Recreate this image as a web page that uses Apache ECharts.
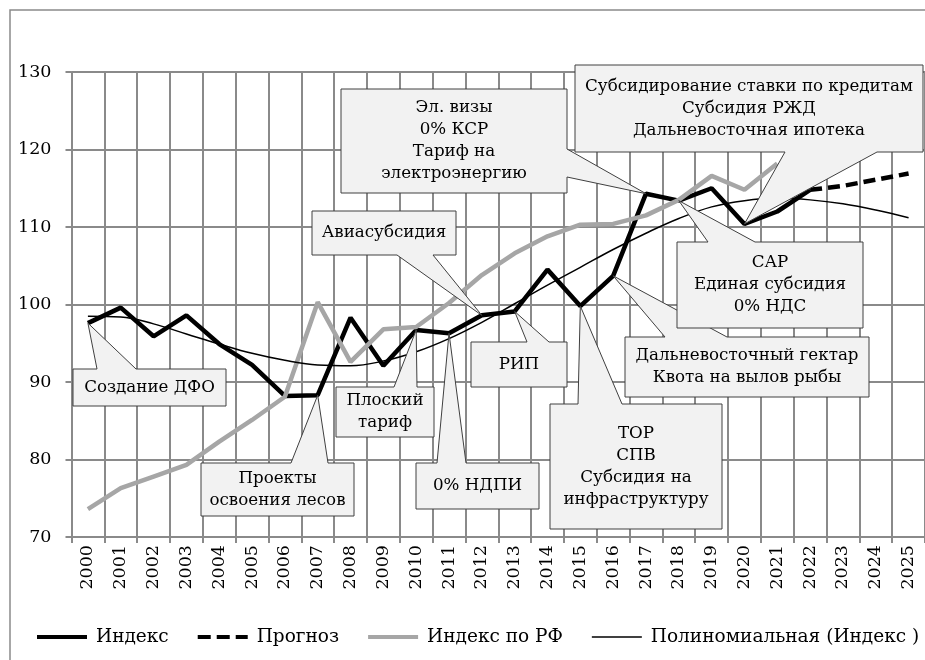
<!DOCTYPE html>
<html>
<head>
<meta charset="utf-8">
<script src="https://cdn.jsdelivr.net/npm/echarts@6/dist/echarts.min.js"></script>
<style>
  html, body { margin: 0; padding: 0; background: #fff; }
  #chart { width: 925px; height: 660px; }
</style>
</head>
<body>
<div id="chart"></div>
<script>
// годы по оси X
const years = [
  '2000', '2001', '2002', '2003', '2004', '2005', '2006', '2007', '2008', '2009',
  '2010', '2011', '2012', '2013', '2014', '2015', '2016', '2017', '2018', '2019',
  '2020', '2021', '2022', '2023', '2024', '2025',
];
// Индекс (факт)
const indexValues = [
  97.6, 99.6, 95.9, 98.6, 94.9, 92.2, 88.2, 88.3, 98.3, 92.1,
  96.7, 96.3, 98.6, 99.1, 104.5, 99.8, 103.7, 114.3, 113.4, 115.0,
  110.4, 112.0, 114.8, null, null, null,
];
// Прогноз
const forecastValues = [
  null, null, null, null, null, null, null, null, null, null,
  null, null, null, null, null, null, null, null, null, null,
  null, null, 114.8, 115.3, 116.1, 116.9,
];
// Индекс по РФ
const rfValues = [
  73.6, 76.3, 77.8, 79.3, 82.3, 85.1, 88.1, 100.3, 92.6, 96.8,
  97.1, 100.2, 103.8, 106.6, 108.8, 110.3, 110.4, 111.5, 113.5, 116.6,
  114.8, 118.2, null, null, null, null,
];
// Полиномиальная (Индекс)
const trendValues = [
  98.5, 98.4, 97.5, 96.2, 94.9, 93.7, 92.8, 92.2, 92.1, 92.7,
  93.9, 95.6, 97.7, 100.1, 102.5, 104.8, 107.1, 109.2, 111.1, 112.6,
  113.4, 113.7, 113.5, 113.0, 112.2, 111.2,
];

// подписи-выноски и год, на который они указывают
const calloutTexts = [
  'Создание ДФО',
  'Проекты\nосвоения лесов',
  'Плоский\nтариф',
  '0% НДПИ',
  'РИП',
  'ТОР\nСПВ\nСубсидия на\nинфраструктуру',
  'Дальневосточный гектар\nКвота на вылов рыбы',
  'САР\nЕдиная субсидия\n0% НДС',
  'Эл. визы\n0% КСР\nТариф на\nэлектроэнергию',
  'Авиасубсидия',
  'Субсидирование ставки по кредитам\nСубсидия РЖД\nДальневосточная ипотека',
];
const calloutYears = [
  '2000', '2007', '2010', '2011', '2013', '2015', '2016', '2018', '2017', '2012', '2020',
];
// раскладка выносок: [x0, y0, x1, y1, сторона хвоста, от, до]
const calloutBoxes = [
  [73, 369, 226, 406, 'top', 97, 136],
  [201, 463, 354, 516, 'top', 291, 328],
  [336, 387, 434, 437, 'top', 394, 417],
  [416, 463, 539, 509, 'top', 437, 466],
  [471, 342, 567, 387, 'top', 527, 549],
  [550, 404, 722, 529, 'top', 578, 622],
  [625, 337, 869, 397, 'top', 665, 727],
  [677, 242, 863, 328, 'top', 708, 755],
  [341, 89, 567, 193, 'right', 149, 177],
  [312, 211, 456, 255, 'bottom', 397, 433],
  [575, 65, 923, 152, 'bottom', 785, 877],
];

const FONT = 'DejaVu Serif';
// значки легенды (рамка 50x20, линия посередине)
const ICON_SOLID = 'path://M0,0M50,20M0,8H50V12H0Z';
const ICON_DASH = 'path://M0,0M50,20M0,8H13V12H0ZM19,8H32V12H19ZM38,8H50V12H38Z';
const ICON_THIN = 'path://M0,0M50,20M0,9.25H50V10.75H0Z';

const chart = echarts.init(document.getElementById('chart'));

const option = {
  animation: false,
  backgroundColor: '#fff',
  textStyle: { fontFamily: FONT },
  grid: { left: 71.5, right: -13.3, top: 72, bottom: 123 },
  legend: {
    left: 37,
    top: 627,
    padding: 0,
    width: 1000,
    itemWidth: 50,
    itemHeight: 20,
    itemGap: 29,
    itemStyle: { borderWidth: 0 },
    textStyle: { fontFamily: FONT, fontSize: 18.5, color: '#000', padding: [0, 0, 0, 4] },
    data: [
      { name: 'Индекс', icon: ICON_SOLID },
      { name: 'Прогноз', icon: ICON_DASH },
      { name: 'Индекс по РФ', icon: ICON_SOLID },
      { name: 'Полиномиальная (Индекс )', icon: ICON_THIN },
    ],
  },
  xAxis: {
    type: 'category',
    data: years,
    boundaryGap: true,
    axisLine: { lineStyle: { color: '#8a8a8a', width: 2 } },
    axisTick: { show: true, length: 6, lineStyle: { color: '#8a8a8a', width: 2 } },
    axisLabel: { rotate: 90, margin: 8, fontFamily: FONT, fontSize: 17.5, color: '#000' },
    splitLine: { show: true, lineStyle: { color: '#8a8a8a', width: 2 } },
  },
  yAxis: {
    type: 'value',
    min: 70,
    max: 130,
    interval: 10,
    axisLine: { show: true, lineStyle: { color: '#8a8a8a', width: 2 } },
    axisTick: { show: true, length: 6, lineStyle: { color: '#8a8a8a', width: 2 } },
    axisLabel: { margin: 20, fontFamily: FONT, fontSize: 17.5, color: '#000' },
    splitLine: { lineStyle: { color: '#8a8a8a', width: 2 } },
  },
  series: [
    {
      name: 'Индекс',
      type: 'line',
      data: indexValues,
      symbol: 'none',
      lineStyle: { color: '#000', width: 4.5 },
      itemStyle: { color: '#000' },
      z: 3,
    },
    {
      name: 'Прогноз',
      type: 'line',
      data: forecastValues,
      symbol: 'none',
      lineStyle: { color: '#000', width: 4.5, type: [12, 6] },
      itemStyle: { color: '#000' },
      z: 3,
    },
    {
      name: 'Индекс по РФ',
      type: 'line',
      data: rfValues,
      symbol: 'none',
      lineStyle: { color: '#a6a6a6', width: 4.5 },
      itemStyle: { color: '#a6a6a6' },
      z: 4,
    },
    {
      name: 'Полиномиальная (Индекс )',
      type: 'line',
      data: trendValues,
      symbol: 'none',
      smooth: 0.4,
      lineStyle: { color: '#000', width: 1.5 },
      itemStyle: { color: '#000' },
      z: 5,
    },
  ],
};
chart.setOption(option);

// выноски: хвост указывает на точку ряда «Индекс»
function buildCallouts() {
  const elements = [
    {
      type: 'rect',
      shape: { x: 10, y: 10, width: 1000, height: 1000 },
      style: { fill: 'none', stroke: '#8a8a8a', lineWidth: 1.5 },
      silent: true,
    },
  ];
  calloutTexts.forEach((text, i) => {
    const [x0, y0, x1, y1, side, a, b] = calloutBoxes[i];
    const idx = years.indexOf(calloutYears[i]);
    const tip = chart.convertToPixel({ gridIndex: 0 }, [idx, indexValues[idx]]);
    let points;
    if (side === 'top') {
      points = [[x0, y0], [a, y0], tip, [b, y0], [x1, y0], [x1, y1], [x0, y1]];
    } else if (side === 'bottom') {
      points = [[x0, y0], [x1, y0], [x1, y1], [b, y1], tip, [a, y1], [x0, y1]];
    } else {
      points = [[x0, y0], [x1, y0], [x1, a], tip, [x1, b], [x1, y1], [x0, y1]];
    }
    elements.push({
      type: 'polygon',
      shape: { points },
      style: { fill: '#f2f2f2', stroke: '#404040', lineWidth: 1 },
      z: 100 + i * 2,
      silent: true,
    });
    elements.push({
      type: 'text',
      x: (x0 + x1) / 2,
      y: (y0 + y1) / 2,
      style: {
        text,
        fontFamily: FONT,
        fontSize: 16.7,
        lineHeight: 22,
        fill: '#000',
        align: 'center',
        verticalAlign: 'middle',
      },
      z: 101 + i * 2,
      silent: true,
    });
  });
  return elements;
}
chart.setOption({ graphic: buildCallouts() });
</script>
</body>
</html>
